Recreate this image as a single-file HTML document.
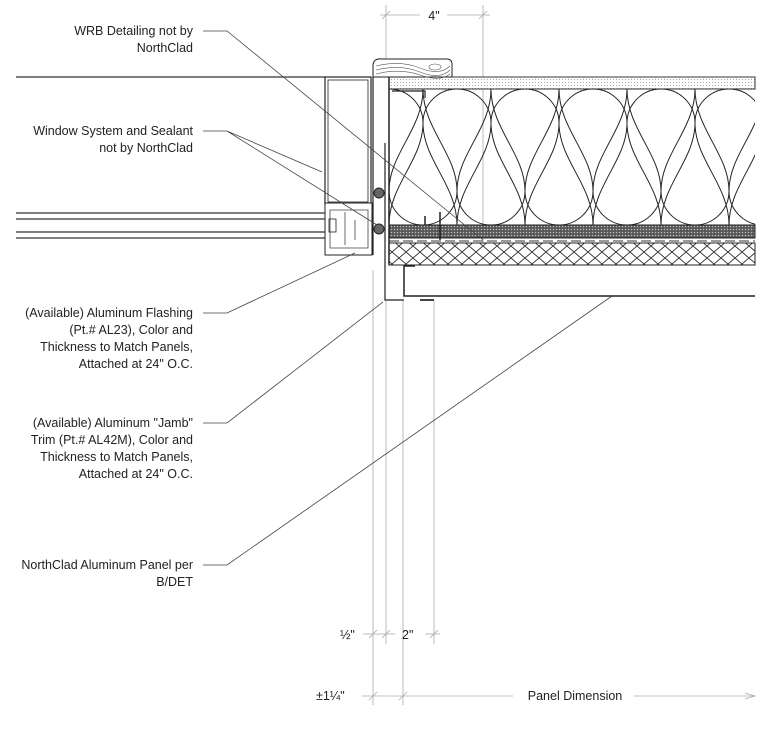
<!DOCTYPE html>
<html><head><meta charset="utf-8"><style>
html,body{margin:0;padding:0;background:#fff;}
svg{display:block;}
text{font-family:"Liberation Sans",Arial,sans-serif;font-size:12.5px;fill:#222;}
</style></head><body>
<svg width="768" height="734" viewBox="0 0 768 734" xmlns="http://www.w3.org/2000/svg">
<defs>
<pattern id="dots" width="3" height="3" patternUnits="userSpaceOnUse"><rect width="3" height="3" fill="#fff"/><circle cx="1.5" cy="1.5" r="0.6" fill="#aaa"/></pattern>
<pattern id="dark" width="3" height="3" patternUnits="userSpaceOnUse"><rect width="3" height="3" fill="#555"/><circle cx="1.5" cy="1.5" r="0.8" fill="#bbb"/></pattern>
<pattern id="xh" width="14" height="12" patternUnits="userSpaceOnUse"><rect width="14" height="12" fill="#fff"/><path d="M0 0L14 12M14 0L0 12" stroke="#333" stroke-width="0.9"/></pattern>
<clipPath id="ins"><rect x="389" y="89" width="366" height="136"/></clipPath>
</defs>

<!-- dimension lines (gray) -->
<g stroke="#aaa" stroke-width="0.8" fill="none">
<line x1="386" y1="5" x2="386" y2="60"/><line x1="483" y1="5" x2="483" y2="245"/>
<line x1="380" y1="15" x2="420" y2="15"/><line x1="447" y1="15" x2="490" y2="15"/>
<line x1="382" y1="19" x2="390" y2="11"/><line x1="479" y1="19" x2="487" y2="11"/>
<line x1="373" y1="270" x2="373" y2="705"/><line x1="386" y1="300" x2="386" y2="644"/>
<line x1="403" y1="300" x2="403" y2="705"/><line x1="434" y1="300" x2="434" y2="644"/>
<line x1="363" y1="634" x2="395" y2="634"/><line x1="425" y1="634" x2="440" y2="634"/>
<line x1="369" y1="638" x2="377" y2="630"/><line x1="382" y1="638" x2="390" y2="630"/><line x1="430" y1="638" x2="438" y2="630"/>
<line x1="362" y1="696" x2="513" y2="696"/><line x1="634" y1="696" x2="755" y2="696"/>
<path d="M745 693L755 696L745 699"/>
<line x1="369" y1="700" x2="377" y2="692"/><line x1="399" y1="700" x2="407" y2="692"/>
</g>
<text x="434" y="20" text-anchor="middle">4"</text>
<text x="340" y="639" font-size="12">½"</text>
<text x="402" y="639">2"</text>
<text x="316" y="700" font-size="12">±1¼"</text>
<text x="575" y="700" text-anchor="middle">Panel Dimension</text>

<!-- wall assembly -->
<rect x="389" y="77" width="366" height="12" fill="url(#dots)" stroke="#333" stroke-width="1"/>
<g clip-path="url(#ins)" fill="none" stroke="#222" stroke-width="1">
<path d="M389,225 C389,185 355,160 355,123 A34 34 0 0 1 423,123 C423,160 389,185 389,225"/>
<path d="M457,225 C457,185 423,160 423,123 A34 34 0 0 1 491,123 C491,160 457,185 457,225"/>
<path d="M525,225 C525,185 491,160 491,123 A34 34 0 0 1 559,123 C559,160 525,185 525,225"/>
<path d="M593,225 C593,185 559,160 559,123 A34 34 0 0 1 627,123 C627,160 593,185 593,225"/>
<path d="M661,225 C661,185 627,160 627,123 A34 34 0 0 1 695,123 C695,160 661,185 661,225"/>
<path d="M729,225 C729,185 695,160 695,123 A34 34 0 0 1 763,123 C763,160 729,185 729,225"/>
<path d="M423,89 C423,129 389,154 389,191 A34 34 0 0 0 457,191 C457,154 423,129 423,89"/>
<path d="M491,89 C491,129 457,154 457,191 A34 34 0 0 0 525,191 C525,154 491,129 491,89"/>
<path d="M559,89 C559,129 525,154 525,191 A34 34 0 0 0 593,191 C593,154 559,129 559,89"/>
<path d="M627,89 C627,129 593,154 593,191 A34 34 0 0 0 661,191 C661,154 627,129 627,89"/>
<path d="M695,89 C695,129 661,154 661,191 A34 34 0 0 0 729,191 C729,154 695,129 695,89"/>
<path d="M763,89 C763,129 729,154 729,191 A34 34 0 0 0 797,191 C797,154 763,129 763,89"/>
</g>
<rect x="389" y="225" width="366" height="13" fill="url(#dark)" stroke="#222" stroke-width="1"/>
<line x1="389" y1="241" x2="755" y2="241" stroke="#333" stroke-width="1" stroke-dasharray="10,4"/>
<rect x="389" y="243" width="366" height="22" fill="url(#xh)" stroke="#222" stroke-width="1"/>
<line x1="389" y1="77" x2="389" y2="265" stroke="#222" stroke-width="1.5"/>
<path d="M392 91H425V98" fill="none" stroke="#222" stroke-width="1.2"/>
<path d="M425 216V225M440 212V240" fill="none" stroke="#222" stroke-width="1.5"/>
<!-- panel -->
<path d="M415 266H404V296H755" fill="none" stroke="#222" stroke-width="1.5"/>
<line x1="420" y1="300" x2="434" y2="300" stroke="#444" stroke-width="2"/>
<path d="M385 143V300H404" fill="none" stroke="#222" stroke-width="1.2"/>
<!-- wood block -->
<path d="M373 77V65Q374 58 381 59L448 59Q452 60 452 64V77Z" fill="#fff" stroke="#222" stroke-width="1"/>
<g stroke="#555" stroke-width="0.6" fill="none"><path d="M376 66Q400 60 420 68T450 66"/><path d="M376 70Q400 64 420 72T450 70"/><path d="M376 74Q400 68 420 75T450 74"/><ellipse cx="435" cy="67" rx="6" ry="3"/></g>

<!-- window -->
<line x1="16" y1="77" x2="325" y2="77" stroke="#333" stroke-width="1.3"/>
<rect x="325" y="77" width="46" height="128" fill="#fff" stroke="#222" stroke-width="1.2"/>
<rect x="328" y="80" width="40" height="122" fill="none" stroke="#222" stroke-width="0.8"/>
<line x1="373" y1="77" x2="373" y2="255" stroke="#222" stroke-width="1.2"/>
<g stroke="#333" stroke-width="1.2"><line x1="16" y1="213" x2="330" y2="213"/><line x1="16" y1="219" x2="330" y2="219"/><line x1="16" y1="232" x2="330" y2="232"/><line x1="16" y1="238" x2="330" y2="238"/></g>
<path d="M325 203H372V255H325Z" fill="#fff" stroke="#222" stroke-width="1"/>
<path d="M330 210H368V248H330Z M345 212V245 M355 220V240" fill="none" stroke="#444" stroke-width="0.8"/>
<rect x="329" y="219" width="7" height="13" fill="none" stroke="#222" stroke-width="0.8"/>
<circle cx="379" cy="193" r="5" fill="#666" stroke="#222"/>
<circle cx="379" cy="229" r="5" fill="#666" stroke="#222"/>

<!-- leaders -->
<g stroke="#444" stroke-width="0.8" fill="none">
<path d="M203 31H227L483 240"/>
<path d="M203 131H227L322 172M227 131L377 225"/>
<path d="M203 313H227L355 253"/>
<path d="M203 423H227L383 302"/>
<path d="M203 565H227L612 296"/>
</g>

<g text-anchor="end">
<text x="193" y="35">WRB Detailing not by</text><text x="193" y="52">NorthClad</text>
<text x="193" y="135">Window System and Sealant</text><text x="193" y="152">not by NorthClad</text>
<text x="193" y="317">(Available) Aluminum Flashing</text><text x="193" y="334">(Pt.# AL23), Color and</text><text x="193" y="351">Thickness to Match Panels,</text><text x="193" y="368">Attached at 24" O.C.</text>
<text x="193" y="427">(Available) Aluminum "Jamb"</text><text x="193" y="444">Trim (Pt.# AL42M), Color and</text><text x="193" y="461">Thickness to Match Panels,</text><text x="193" y="478">Attached at 24" O.C.</text>
<text x="193" y="569">NorthClad Aluminum Panel per</text><text x="193" y="586">B/DET</text>
</g>
</svg>
</body></html>
